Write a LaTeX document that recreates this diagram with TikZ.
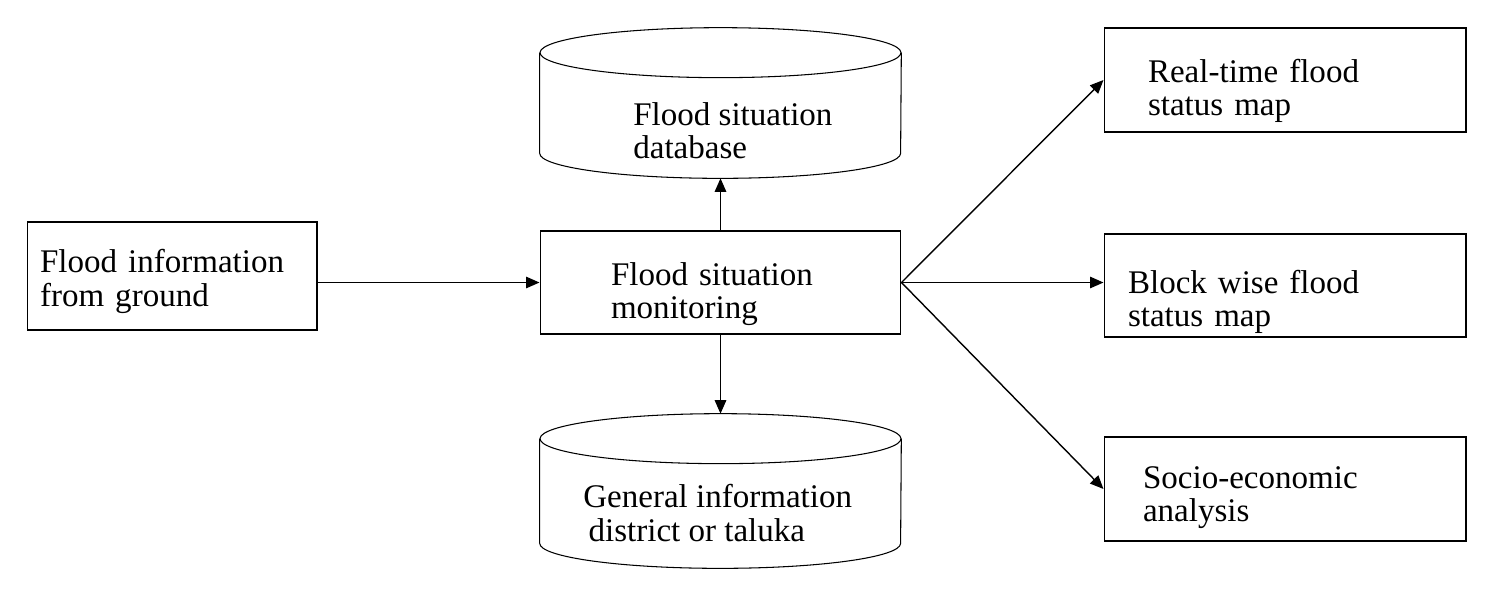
\documentclass[tikz,border=0pt]{standalone}
\usepackage{fontspec}
\setmainfont{Liberation Serif}
\usetikzlibrary{shapes.geometric, arrows.meta}

\begin{document}
\begin{tikzpicture}[
    x=0.02cm, y=-0.02cm,
    font=\fontsize{18.8}{19}\selectfont,
    box/.style={rectangle, draw, line width=0.6pt, align=left, inner ysep=0pt},
    store/.style={rectangle, minimum width=7.22cm, inner sep=0pt},
    storeline/.style={draw, line width=0.6pt},
    storetext/.style={anchor=west, align=left, inner sep=0pt},
    arrow/.style={draw, -{Triangle[length=0.27cm, width=0.23cm]}, line width=0.8pt}
]
\useasboundingbox (0,0) rectangle (1499,593);
\node [box, minimum height=2.16cm, text width=5.28cm, inner xsep=0.26cm, text height=19.6pt] (ground) at (172,276) {Flood information\\from ground};
\node [box, minimum height=2.06cm, text width=4.38cm, inner xsep=1.42cm, text height=26.5pt] (monitor) at (720.5,282.5) {Flood situation\\monitoring};
% database cylinders
\node [store, minimum height=3cm] (db) at (720.5,103) {};
\path [storeline] ([yshift=-0.5cm]db.north) ellipse [x radius=3.61cm, y radius=0.5cm];
\path [storeline] ([yshift=-0.5cm]db.north west) -- ([yshift=0.5cm]db.south west) arc [start angle=180, end angle=360, x radius=3.61cm, y radius=0.5cm] -- ([yshift=-0.5cm]db.north east);
\node [storetext] (dbtext) at (633,131) {Flood situation\\database};
\node [store, minimum height=3.08cm] (info) at (720.5,491) {};
\path [storeline] ([yshift=-0.5cm]info.north) ellipse [x radius=3.61cm, y radius=0.5cm];
\path [storeline] ([yshift=-0.5cm]info.north west) -- ([yshift=0.5cm]info.south west) arc [start angle=180, end angle=360, x radius=3.61cm, y radius=0.5cm] -- ([yshift=-0.5cm]info.north east);
\node [storetext] (infotext) at (583,513) {General information\\\hspace*{3pt}district or taluka};
% outputs
\node [box, minimum height=2.08cm, text width=5.48cm, inner xsep=0.88cm, text height=25.4pt] (realtime) at (1285,80) {Real-time flood\\status map};
\node [box, minimum height=2.06cm, text width=6.28cm, inner xsep=0.48cm, text height=32.2pt] (block) at (1285,285.5) {Block wise flood\\status map};
\node [box, minimum height=2.08cm, text width=5.68cm, inner xsep=0.78cm, text height=22pt] (socio) at (1285,489) {Socio-economic\\analysis};
\path [arrow] (ground.east |- monitor.west) -- (monitor.west);
\path [arrow] (monitor.north) -- (db.south);
\path [arrow] (monitor.south) -- (info.north);
\path [arrow] (monitor.east) -- (realtime.west);
\path [arrow] (monitor.east) -- (block.west |- monitor.east);
\path [arrow] (monitor.east) -- (socio.west);
\end{tikzpicture}
\end{document}
